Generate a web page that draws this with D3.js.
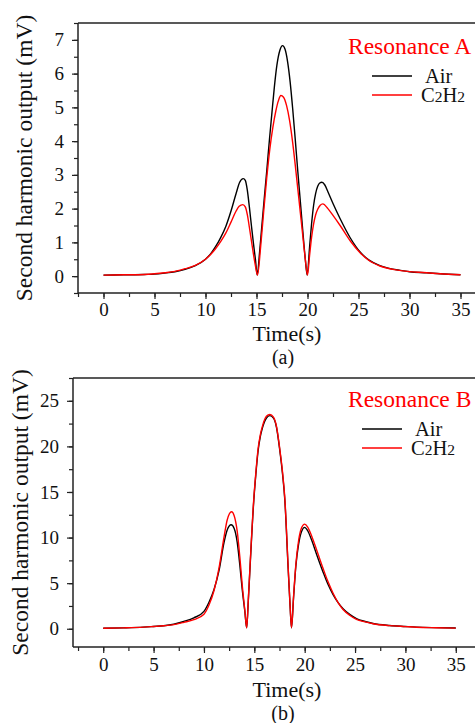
<!DOCTYPE html>
<html>
<head>
<meta charset="utf-8">
<script src="https://cdn.jsdelivr.net/npm/d3@7"></script>
<style>
  html, body { margin: 0; padding: 0; background: #fff; }
  svg { display: block; }
  text { font-family: "Liberation Serif", "Times New Roman", serif; fill: #111; }
</style>
</head>
<body>
<svg id="chart" width="475" height="723"></svg>
<script>
// ---- Resonance A : time (s) and second harmonic output (mV) ----
const timeAirA = [0, 2, 4, 5, 6, 7, 8, 9, 10, 10.5, 11, 11.5, 12, 12.5, 13, 13.35, 13.7, 13.9, 14.1, 14.3, 14.5, 14.7, 14.9, 15.07,
  15.3, 15.5, 15.76, 16.0, 16.27, 16.5, 16.75, 17.0, 17.3, 17.55, 17.8, 18.05, 18.3, 18.55, 18.8, 19.05, 19.3, 19.55, 19.8, 19.97,
  20.2, 20.4, 20.6, 20.8, 21.0, 21.2, 21.41, 21.7, 22.0, 22.5, 23.2, 24.2, 25.2, 26, 27.1, 28, 29.1, 30, 31.7, 33, 35];
const airA = [0.03, 0.04, 0.05, 0.06, 0.09, 0.13, 0.2, 0.31, 0.5, 0.66, 0.88, 1.15, 1.48, 1.93, 2.45, 2.78, 2.89, 2.84, 2.55, 2.05, 1.5, 0.97, 0.48, 0.03,
  0.7, 1.4, 2.3, 3.1, 4.05, 4.8, 5.6, 6.25, 6.7, 6.83, 6.72, 6.35, 5.75, 4.95, 4.05, 3.1, 2.2, 1.3, 0.45, 0.03,
  0.85, 1.55, 2.1, 2.45, 2.66, 2.76, 2.78, 2.7, 2.5, 2.15, 1.7, 1.13, 0.7, 0.48, 0.31, 0.23, 0.17, 0.13, 0.1, 0.07, 0.04];

const timeGasA = [0, 2, 4, 5, 6, 7, 8, 9, 10, 10.5, 11, 11.5, 12, 12.5, 13, 13.3, 13.66, 13.9, 14.1, 14.3, 14.5, 14.7, 14.9, 15.1,
  15.4, 15.7, 16.0, 16.3, 16.6, 16.9, 17.15, 17.39, 17.65, 17.95, 18.25, 18.55, 18.85, 19.15, 19.45, 19.75, 20.0,
  20.2, 20.4, 20.6, 20.8, 21.0, 21.25, 21.5, 22.0, 22.5, 23.2, 24.2, 25.2, 26, 27.1, 29, 31.7, 33, 35];
const gasA = [0.03, 0.04, 0.05, 0.07, 0.1, 0.14, 0.22, 0.32, 0.5, 0.64, 0.82, 1.03, 1.28, 1.6, 1.93, 2.07, 2.12, 2.05, 1.82, 1.45, 1.05, 0.65, 0.3, 0.03,
  0.85, 1.9, 2.9, 3.75, 4.4, 4.9, 5.2, 5.35, 5.3, 5.05, 4.6, 3.95, 3.15, 2.3, 1.45, 0.6, 0.03,
  0.6, 1.15, 1.55, 1.82, 1.98, 2.1, 2.14, 2.0, 1.8, 1.5, 1.04, 0.68, 0.47, 0.3, 0.17, 0.1, 0.07, 0.04];

// ---- Resonance B ----
const timeAirB = [0, 2, 4, 5, 6, 7, 8, 9, 10, 10.5, 11, 11.5, 12, 12.3, 12.7, 13.0, 13.3, 13.56, 13.8, 14.06, 14.24,
  14.4, 14.58, 14.95, 15.15, 15.38, 15.6, 15.8, 16.2, 16.54, 16.9, 17.2, 17.53, 17.78, 18.03, 18.35, 18.55, 18.69,
  18.9, 19.12, 19.4, 19.7, 20.0, 20.3, 20.7, 21.17, 21.83, 22.3, 22.82, 23.3, 23.81, 24.5, 25.14, 26, 26.79, 28.44, 30, 31.1, 33, 35];
const airB = [0.05, 0.1, 0.18, 0.25, 0.33, 0.5, 0.8, 1.2, 1.9, 2.9, 4.3, 6.4, 9.5, 10.8, 11.4, 11.0, 9.5, 7.0, 4.3, 1.9, 0.1,
  3.0, 6.83, 14.1, 16.9, 19.55, 21.1, 22.0, 23.1, 23.37, 23.1, 22.1, 19.55, 17.2, 14.1, 6.83, 2.5, 0.1,
  3.5, 6.83, 9.3, 10.7, 11.12, 10.75, 9.7, 8.2, 6.2, 4.9, 3.75, 2.9, 2.2, 1.55, 1.12, 0.8, 0.58, 0.36, 0.25, 0.18, 0.12, 0.08];

const timeGasB = [0, 2, 4, 5, 6, 7, 8, 9, 10, 10.5, 11, 11.5, 12, 12.3, 12.74, 13.0, 13.3, 13.56, 13.8, 14.06, 14.24,
  14.4, 14.58, 14.95, 15.15, 15.38, 15.6, 15.8, 16.2, 16.54, 16.9, 17.2, 17.53, 17.78, 18.03, 18.35, 18.55, 18.69,
  18.9, 19.12, 19.4, 19.7, 20.0, 20.3, 20.7, 21.17, 21.83, 22.3, 22.82, 23.3, 23.81, 24.5, 25.14, 26, 26.79, 28.44, 30, 31.1, 33, 35];
const gasB = [0.05, 0.1, 0.18, 0.25, 0.33, 0.45, 0.7, 1.0, 1.6, 2.6, 4.2, 6.7, 10.1, 11.9, 12.83, 12.4, 10.7, 7.9, 4.8, 2.0, 0.1,
  3.1, 7.0, 14.3, 17.1, 19.8, 21.3, 22.2, 23.3, 23.5, 23.2, 22.2, 19.7, 17.4, 14.3, 7.0, 2.6, 0.1,
  3.6, 7.0, 9.7, 11.1, 11.48, 11.15, 10.15, 8.7, 6.6, 5.2, 3.9, 2.9, 2.12, 1.45, 1.02, 0.75, 0.55, 0.34, 0.24, 0.17, 0.11, 0.07];

// axis ticks
const xTicks = [0, 5, 10, 15, 20, 25, 30, 35];
const yTicksA = [0, 1, 2, 3, 4, 5, 6, 7];
const yTicksB = [0, 5, 10, 15, 20, 25];

const seriesNames = ["Air", "C2H2"];
const seriesColors = ["#000000", "#ff0000"];

const svg = d3.select("#chart");
const zip = (ts, vs) => ts.map((t, i) => [t, vs[i]]);
const SERIF = '"Liberation Serif", "Times New Roman", serif';

function panel(cfg) {
  const g = svg.append("g");
  const x = d3.scaleLinear().domain(cfg.xDomain).range([cfg.left, cfg.right]);
  const y = d3.scaleLinear().domain(cfg.yDomain).range([cfg.bottom, cfg.top]);

  // frame top edge
  g.append("line")
    .attr("x1", cfg.left).attr("x2", cfg.right + 20)
    .attr("y1", cfg.top).attr("y2", cfg.top)
    .attr("stroke", "#222").attr("stroke-width", 1.5);

  // minor ticks
  const xMinor = d3.range(-2.5, 37.6, 2.5).filter(v => v >= cfg.xDomain[0] && v <= cfg.xDomain[1]);
  const yMinor = d3.range(cfg.yMinorStart, cfg.yDomain[1] + 1e-9, cfg.yMinorStep);
  g.append("g").attr("transform", `translate(0,${cfg.bottom})`)
    .call(d3.axisBottom(x).tickValues(xMinor).tickSize(4).tickFormat(""))
    .call(a => a.select(".domain").remove())
    .selectAll("line").attr("stroke", "#222").attr("stroke-width", 1.2);
  g.append("g").attr("transform", `translate(${cfg.left},0)`)
    .call(d3.axisLeft(y).tickValues(yMinor).tickSize(4).tickFormat(""))
    .call(a => a.select(".domain").remove())
    .selectAll("line").attr("stroke", "#222").attr("stroke-width", 1.2);

  // major axes
  const xa = g.append("g").attr("transform", `translate(0,${cfg.bottom})`)
    .call(d3.axisBottom(x).tickValues(xTicks).tickSize(6).tickSizeOuter(0).tickPadding(cfg.xPad));
  const ya = g.append("g").attr("transform", `translate(${cfg.left},0)`)
    .call(d3.axisLeft(y).tickValues(cfg.yTicks).tickSize(6).tickSizeOuter(0).tickPadding(8));
  [xa, ya].forEach(a => {
    a.select(".domain").attr("stroke", "#222").attr("stroke-width", 1.5);
    a.selectAll(".tick line").attr("stroke", "#222").attr("stroke-width", 1.2);
    a.selectAll(".tick text")
      .style("font-family", SERIF)
      .style("font-size", "19px").attr("fill", "#111");
  });
  xa.select(".domain").attr("d", `M${cfg.left},0H${cfg.right + 20}`);
  ya.select(".domain").attr("d", `M0,${cfg.bottom}V${cfg.top}`);

  // curves
  const line = d3.line().x(d => x(d[0])).y(d => y(d[1])).curve(d3.curveMonotoneX);
  cfg.series.forEach((s, i) => {
    g.append("path").datum(s)
      .attr("fill", "none")
      .attr("stroke", seriesColors[i])
      .attr("stroke-width", 1.4)
      .attr("stroke-linejoin", "round")
      .attr("d", line);
  });

  // axis titles
  g.append("text")
    .attr("transform", `translate(${cfg.yLabelX},${(cfg.top + cfg.bottom) / 2}) rotate(-90)`)
    .attr("text-anchor", "middle")
    .style("font-size", "23.5px")
    .text("Second harmonic output (mV)");
  g.append("text")
    .attr("x", 287).attr("y", cfg.bottom + cfg.titleDy)
    .attr("text-anchor", "middle")
    .style("font-size", "22px")
    .text("Time(s)");
  g.append("text")
    .attr("x", 283).attr("y", cfg.bottom + cfg.tagDy)
    .attr("text-anchor", "middle")
    .style("font-size", "20px")
    .text(cfg.tag);

  // legend
  g.append("text")
    .attr("x", 348).attr("y", cfg.legendTop)
    .style("fill", "#ff0000")
    .style("font-size", "23.5px")
    .text(cfg.title);
  seriesNames.forEach((name, i) => {
    const ly = cfg.legendTop + 22 + i * 19;
    g.append("line")
      .attr("x1", cfg.legendLineX).attr("x2", cfg.legendLineX + 40)
      .attr("y1", ly).attr("y2", ly)
      .attr("stroke", seriesColors[i]).attr("stroke-width", 1.4);
    const t = g.append("text")
      .attr("x", cfg.legendLineX + (i === 0 ? 53 : 49)).attr("y", ly + 6.5)
      .style("font-size", "20.5px");
    if (name === "C2H2") {
      t.append("tspan").text("C");
      t.append("tspan").style("font-size", "15.5px").text("2");
      t.append("tspan").text("H");
      t.append("tspan").style("font-size", "15.5px").text("2");
    } else {
      t.text(name);
    }
  });
}

panel({
  left: 78, right: 486, top: 23, bottom: 293,
  xDomain: [-2.5, 37.5], yDomain: [-0.5, 7.5],
  yTicks: yTicksA, yMinorStart: -0.5, yMinorStep: 0.5,
  yLabelX: 32, xPad: 4, titleDy: 48, tagDy: 71,
  series: [zip(timeAirA, airA), zip(timeGasA, gasA)],
  title: "Resonance A", tag: "(a)",
  legendTop: 54, legendLineX: 372
});

panel({
  left: 73, right: 486, top: 378, bottom: 647,
  xDomain: [-3, 38], yDomain: [-2, 27.5],
  yTicks: yTicksB, yMinorStart: 0, yMinorStep: 2.5,
  yLabelX: 28, xPad: 4.5, titleDy: 49.5, tagDy: 72.5,
  series: [zip(timeAirB, airB), zip(timeGasB, gasB)],
  title: "Resonance B", tag: "(b)",
  legendTop: 407, legendLineX: 362
});
</script>
</body>
</html>
